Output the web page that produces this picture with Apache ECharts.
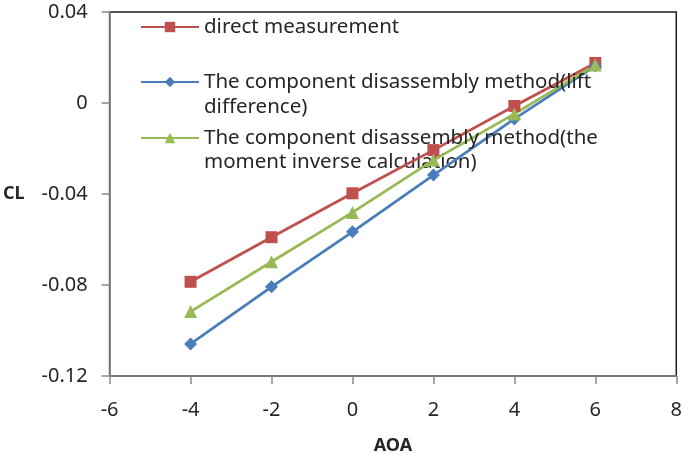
<!DOCTYPE html>
<html>
<head>
<meta charset="utf-8">
<script src="https://cdn.jsdelivr.net/npm/echarts@6/dist/echarts.min.js"></script>
<style>
  html, body { margin: 0; padding: 0; background: #fff; }
  #chart { width: 685px; height: 460px; }
</style>
</head>
<body>
<div id="chart"></div>
<script>
// 攻角 AOA
const aoa = [-4, -2, 0, 2, 4, 6];
// 升力系数 CL
const direct = [-0.0786, -0.0590, -0.0397, -0.0207, -0.0013, 0.0176];
const liftDiff = [-0.1059, -0.0808, -0.0566, -0.0317, -0.0070, 0.0163];
const momentInv = [-0.0917, -0.0698, -0.0481, -0.0251, -0.0048, 0.0167];

const names = [
  'direct measurement',
  'The component disassembly method(lift',
  'The component disassembly method(the'
];
const secondLines = ['difference)', 'moment inverse calculation)'];

const font = 'Noto Sans';
const textColor = '#262626';

function pairs(ys) {
  return aoa.map((x, i) => [x, ys[i]]);
}

const chart = echarts.init(document.getElementById('chart'));

// 每个图例单独放置，位置与原图对齐
const legendTops = [16, 71, 127];
const legends = names.map((n, i) => ({
  data: [n],
  left: 140,
  top: legendTops[i],
  padding: 0,
  itemWidth: 58,
  itemHeight: 13,
  itemGap: 0,
  selectedMode: false,
  textStyle: { fontFamily: font, fontSize: 20.5, color: textColor, lineHeight: 22 }
}));

const axisLineStyle = { color: '#898989', width: 1.5 };

const option = {
  animation: false,
  grid: {
    left: 107, right: 8, top: 12, bottom: 84,
    show: true,
    borderColor: '#1e1e1e',
    borderWidth: 1.5
  },
  legend: legends,
  xAxis: {
    type: 'value',
    min: -6, max: 8, interval: 2,
    name: 'AOA',
    nameLocation: 'middle',
    nameGap: 61,
    nameTextStyle: { fontFamily: font, fontSize: 18, fontWeight: 'bold', color: textColor },
    axisLine: { show: true, onZero: false, lineStyle: axisLineStyle },
    axisTick: { show: true, length: 8, lineStyle: axisLineStyle },
    axisLabel: { margin: 24, fontFamily: font, fontSize: 20, color: textColor },
    splitLine: { show: false }
  },
  yAxis: {
    type: 'value',
    min: -0.12, max: 0.04, interval: 0.04,
    name: 'CL',
    nameLocation: 'middle',
    nameRotate: 0,
    nameGap: 85,
    nameTextStyle: { fontFamily: font, fontSize: 18, fontWeight: 'bold', color: textColor },
    axisLine: { show: true, onZero: false, lineStyle: axisLineStyle },
    axisTick: { show: true, length: 8, lineStyle: axisLineStyle },
    axisLabel: {
      margin: 22, fontFamily: font, fontSize: 20, color: textColor,
      formatter: v => String(Math.round(v * 100) / 100)
    },
    splitLine: { show: false }
  },
  graphic: [
    { type: 'text', left: 204, top: 97, style: { text: secondLines[0], font: '20.5px "Noto Sans"', fill: textColor } },
    { type: 'text', left: 204, top: 152, style: { text: secondLines[1], font: '20.5px "Noto Sans"', fill: textColor } }
  ],
  series: [
    {
      name: names[0], type: 'line', data: pairs(direct),
      symbol: 'rect', symbolSize: 12,
      lineStyle: { color: '#C0504D', width: 2.75 },
      itemStyle: { color: '#C0504D' }
    },
    {
      name: names[1], type: 'line', data: pairs(liftDiff),
      symbol: 'diamond', symbolSize: 13,
      lineStyle: { color: '#4A7EBB', width: 2.75 },
      itemStyle: { color: '#4A7EBB' }
    },
    {
      name: names[2], type: 'line', data: pairs(momentInv),
      symbol: 'triangle', symbolSize: 13,
      lineStyle: { color: '#98B954', width: 2.75 },
      itemStyle: { color: '#98B954' }
    }
  ]
};

chart.setOption(option);
</script>
</body>
</html>
